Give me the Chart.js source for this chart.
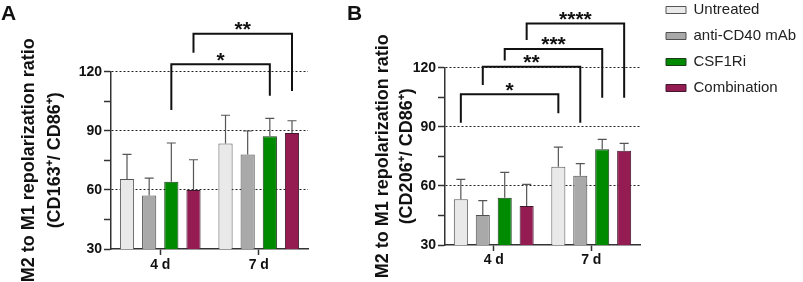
<!DOCTYPE html>
<html><head><meta charset="utf-8">
<script src="https://cdn.jsdelivr.net/npm/chart.js@4/dist/chart.umd.min.js"></script>
<style>
html,body{margin:0;padding:0;background:#fff;width:803px;height:282px;overflow:hidden}
#wa{position:absolute;left:0;top:0;width:340px;height:282px}
#wb{position:absolute;left:340px;top:0;width:463px;height:282px}
</style></head><body>
<div id="wa"><canvas id="ca"></canvas></div>
<div id="wb"><canvas id="cb"></canvas></div>
<script>
// ---------- data ----------
const categories = ['4 d', '7 d'];
const groups = ['Untreated', 'anti-CD40 mAb', 'CSF1Ri', 'Combination'];
const yTickLabels = [30, 60, 90, 120];

// Panel A: CD163+/CD86+
const aUntreated   = [65.5, 83.6];
const aAntiCD40    = [57.2, 78.0];
const aCSF1Ri      = [64.2, 87.2];
const aCombination = [60.0, 88.9];
const aUntreatedSD   = [12.5, 14.3];
const aAntiCD40SD    = [8.8, 11.9];
const aCSF1RiSD      = [19.6, 9.1];
const aCombinationSD = [15.3, 6.2];
// brackets: [group index, top value, left end value, right end value]
const aBrackets = [[2, 123.8, 100.6, 107.8], [3, 139.3, 129.6, 110.2]];
const aBracketLabels = ['*', '**'];

// Panel B: CD206+/CD86+
const bUntreated   = [53.2, 69.7];
const bAntiCD40    = [45.2, 65.2];
const bCSF1Ri      = [54.0, 78.6];
const bCombination = [49.8, 77.9];
const bUntreatedSD   = [10.1, 10.0];
const bAntiCD40SD    = [7.3, 6.1];
const bCSF1RiSD      = [12.9, 5.0];
const bCombinationSD = [11.0, 3.7];
const bBrackets = [[0, 106.5, 92.1, 96.9], [1, 120.5, 111.2, 92.1], [2, 129.5, 123.6, 104.8], [3, 142.5, 134.1, 104.8]];
const bBracketLabels = ['*', '**', '***', '****'];

// ---------- styles ----------
const FONT = "'Liberation Sans', Arial, Helvetica, sans-serif";
Chart.defaults.font.family = FONT;
Chart.defaults.color = '#111';
const fills = ['#e9e9e9', '#a9a9a9', '#008a00', '#951b53'];
const borders = ['#555555', '#505050', '#1d3a1d', '#3f1a2c'];

function makeDatasets(vals) {
  return vals.map((v, i) => ({
    label: groups[i], data: v,
    backgroundColor: fills[i], borderColor: borders[i], borderWidth: 1,
    barPercentage: 0.64, categoryPercentage: 0.9
  }));
}

function annotPlugin(panel, panelX, sds, brackets, labels) {
  return {
    id: 'annot' + panel,
    afterDatasetsDraw(chart) {
      const ctx = chart.ctx, y = chart.scales.y;
      ctx.save();
      ctx.strokeStyle = '#555'; ctx.lineWidth = 1.2;
      sds.forEach((sd, di) => {
        const meta = chart.getDatasetMeta(di);
        meta.data.forEach((el, j) => {
          const v = chart.data.datasets[di].data[j];
          const yt = y.getPixelForValue(v + sd[j]);
          ctx.beginPath();
          ctx.moveTo(el.x, el.y); ctx.lineTo(el.x, yt);
          ctx.moveTo(el.x - 4.5, yt); ctx.lineTo(el.x + 4.5, yt);
          ctx.stroke();
        });
      });
      ctx.restore();
    },
    afterDraw(chart) {
      const ctx = chart.ctx, y = chart.scales.y;
      ctx.save();
      ctx.strokeStyle = '#111'; ctx.lineWidth = 2; ctx.lineJoin = 'miter'; ctx.lineCap = 'butt';
      ctx.fillStyle = '#111';
      ctx.font = 'bold 21px ' + FONT; ctx.textAlign = 'center'; ctx.textBaseline = 'alphabetic';
      brackets.forEach((b, k) => {
        const meta = chart.getDatasetMeta(b[0]);
        const xl = meta.data[0].x, xr = meta.data[1].x;
        const yt = y.getPixelForValue(b[1]);
        ctx.beginPath();
        ctx.moveTo(xl, y.getPixelForValue(b[2]));
        ctx.lineTo(xl, yt); ctx.lineTo(xr, yt);
        ctx.lineTo(xr, y.getPixelForValue(b[3]));
        ctx.stroke();
        ctx.fillText(labels[k], (xl + xr) / 2, yt + 2.5);
      });
      ctx.font = 'bold 21px ' + FONT; ctx.textAlign = 'left';
      ctx.fillText(panel, panelX, 20);
      ctx.restore();
    }
  };
}

const legendShift = {
  id: 'legendShift',
  afterLayout(chart) {
    const lg = chart.legend; if (!lg) return;
    const dx = 15;
    lg.left += dx;
    lg.right = chart.width; lg.width = lg.right - lg.left;
    const h = lg.bottom - lg.top; lg.top = -8.5; lg.bottom = lg.top + h;
  }
};

function makeOptions(o) {
  return {
    responsive: true, maintainAspectRatio: false, animation: false,
    layout: { padding: { top: o.top, left: 0, right: o.right, bottom: 0 } },
    plugins: {
      tooltip: { enabled: false },
      legend: o.legend ? {
        display: true, position: 'right', align: 'start', maxWidth: 140,
        labels: { boxWidth: 20, boxHeight: 7, padding: 11, color: '#222', font: { size: 15 } }
      } : { display: false }
    },
    scales: {
      x: {
        type: 'category', offset: true,
        afterFit: s => { s.height = o.xh; },
        grid: { offset: false, drawOnChartArea: false, tickLength: 6, tickColor: '#333', tickWidth: 1.5 },
        border: { color: '#333', width: 1.5 },
        ticks: { font: { size: 14, weight: 'bold' }, color: '#111', padding: o.xpad }
      },
      y: {
        min: yTickLabels[0], max: yTickLabels[yTickLabels.length - 1],
        afterFit: s => { s.width = o.yw; },
        ticks: {
          stepSize: (yTickLabels[1] - yTickLabels[0]) / 2,
          callback: v => (yTickLabels.includes(v) ? v : ''),
          font: { size: 14, weight: 'bold' }, color: '#111', padding: 2
        },
        grid: {
          color: c => (c.tick && yTickLabels.includes(c.tick.value) && c.tick.value > yTickLabels[0]) ? '#222' : 'rgba(0,0,0,0)',
          lineWidth: 1, tickLength: 7, tickColor: '#333', tickWidth: 1.5
        },
        border: { color: '#333', width: 1.5, dash: [2, 2] },
        title: {
          display: true, text: o.title, color: '#111',
          font: { size: 18, weight: 'bold', lineHeight: o.lh }, padding: { top: o.tpad, bottom: 0 }
        }
      }
    }
  };
}

new Chart(document.getElementById('ca'), {
  type: 'bar',
  data: { labels: categories, datasets: makeDatasets([aUntreated, aAntiCD40, aCSF1Ri, aCombination]) },
  options: makeOptions({ top: 71.7, right: 32, xh: 33, xpad: 2, yw: 111, lh: 1.46, tpad: 16,
    title: ['M2 to M1 repolarization ratio', '(CD163\u207A/ CD86\u207A)'], legend: false }),
  plugins: [annotPlugin('A', 1, [aUntreatedSD, aAntiCD40SD, aCSF1RiSD, aCombinationSD], aBrackets, aBracketLabels)]
});

new Chart(document.getElementById('cb'), {
  type: 'bar',
  data: { labels: categories, datasets: makeDatasets([bUntreated, bAntiCD40, bCSF1Ri, bCombination]) },
  options: makeOptions({ top: 67.7, right: 23, xh: 37, xpad: 1, yw: 105, lh: 1.345, tpad: 31,
    title: ['M2 to M1 repolarization ratio', '(CD206\u207A/ CD86\u207A)'], legend: true }),
  plugins: [legendShift, annotPlugin('B', 7, [bUntreatedSD, bAntiCD40SD, bCSF1RiSD, bCombinationSD], bBrackets, bBracketLabels)]
});
</script>
</body></html>
